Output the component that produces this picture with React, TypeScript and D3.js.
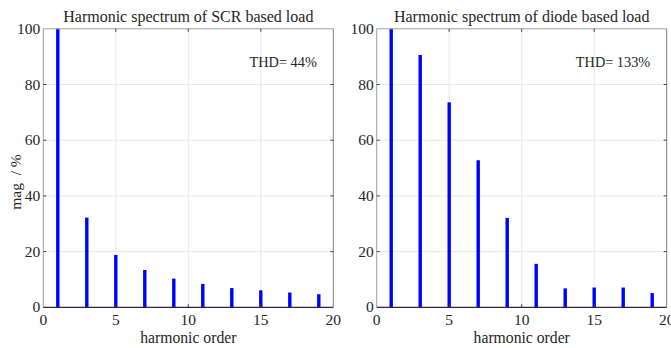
import React from "react";
import * as d3 from "d3";

const harmonicOrders = [1, 3, 5, 7, 9, 11, 13, 15, 17, 19];
const scrMagnitudes = [100, 32.2, 18.8, 13.4, 10.3, 8.4, 6.9, 6.1, 5.3, 4.7];
const diodeMagnitudes = [100, 90.6, 73.6, 52.8, 32.1, 15.6, 6.8, 7.1, 7.1, 5.1];
const xTicks = [0, 5, 10, 15, 20];
const yTicks = [0, 20, 40, 60, 80, 100];
const panelTitles = ["Harmonic spectrum of SCR based load", "Harmonic spectrum of diode based load"];
const thdLabels = ["THD= 44%", "THD= 133%"];
const xLabel = "harmonic order";
const yLabel = "mag  / %";

const W = 671;
const H = 348;
const FONT = "Liberation Serif, Times New Roman, serif";

function SText({ x, y, size, anchor = "start", children, rotate = 0 }: any) {
  return (
    <text
      transform={`translate(${x},${y}) rotate(${rotate})`}
      fontFamily={FONT}
      fontSize={size}
      textAnchor={anchor}
      fill="#262626"
      style={{ whiteSpace: "pre" }}
    >
      {children}
    </text>
  );
}

function Panel({ x0, x1, values, title, thd, showYLabel }: any) {
  const top = 28.8;
  const bottom = 307.3;
  const x = d3.scaleLinear().domain([0, 20]).range([x0, x1]);
  const y = d3.scaleLinear().domain([0, 100]).range([bottom, top]);
  const tl = 3;
  const cx = (x0 + x1) / 2;
  return (
    <g>
      {xTicks.slice(1, -1).map((t) => (
        <line key={"gx" + t} x1={x(t)} x2={x(t)} y1={top} y2={bottom} stroke="#e8e8e8" strokeWidth={1} />
      ))}
      {yTicks.slice(1, -1).map((t) => (
        <line key={"gy" + t} x1={x0} x2={x1} y1={y(t)} y2={y(t)} stroke="#e8e8e8" strokeWidth={1} />
      ))}
      {harmonicOrders.map((h, i) => (
        <rect
          key={"b" + h}
          x={x(h) - 1.7}
          width={3.4}
          y={y(values[i])}
          height={y(0) - y(values[i])}
          fill="#0000ff"
        />
      ))}
      <line x1={x0} x2={x1} y1={top} y2={top} stroke="#a0a0a0" strokeWidth={1} />
      <line x1={x0} x2={x0} y1={top} y2={bottom} stroke="#a0a0a0" strokeWidth={1} />
      <line x1={x1} x2={x1} y1={top} y2={bottom} stroke="#808080" strokeWidth={1} />
      {xTicks.slice(1, -1).map((t) => (
        <g key={"tx" + t}>
          <line x1={x(t)} x2={x(t)} y1={bottom} y2={bottom - tl} stroke="#404040" />
          <line x1={x(t)} x2={x(t)} y1={top} y2={top + tl} stroke="#404040" />
        </g>
      ))}
      {yTicks.slice(1, -1).map((t) => (
        <g key={"ty" + t}>
          <line x1={x0} x2={x0 + tl} y1={y(t)} y2={y(t)} stroke="#404040" />
          <line x1={x1} x2={x1 - tl} y1={y(t)} y2={y(t)} stroke="#404040" />
        </g>
      ))}
      <line x1={x0} x2={x1} y1={bottom} y2={bottom} stroke="#26264a" strokeWidth={1.2} />
      {xTicks.map((t) => (
        <SText key={"lx" + t} x={x(t)} y={325} size={15.5} anchor="middle">
          {t}
        </SText>
      ))}
      {yTicks.map((t) => (
        <SText key={"ly" + t} x={x0 - 3} y={y(t) + 5} size={15.5} anchor="end">
          {t}
        </SText>
      ))}
      <SText x={cx} y={342.5} size={15.7} anchor="middle">
        {xLabel}
      </SText>
      <SText x={cx} y={21.5} size={16} anchor="middle">
        {title}
      </SText>
      <SText x={x1 - 16.5} y={66.5} size={14.3} anchor="end">
        {thd}
      </SText>
      {showYLabel && (
        <SText x={21} y={182} size={15.5} anchor="middle" rotate={-90}>
          {yLabel}
        </SText>
      )}
    </g>
  );
}

export default function App() {
  return (
    <svg width={W} height={H} style={{ position: "absolute", left: 0, top: 0, background: "#fff" }}>
      <rect width={W} height={H} fill="#fff" />
      <Panel x0={43.3} x1={333.3} values={scrMagnitudes} title={panelTitles[0]} thd={thdLabels[0]} showYLabel />
      <Panel x0={376.7} x1={666.7} values={diodeMagnitudes} title={panelTitles[1]} thd={thdLabels[1]} showYLabel={false} />
    </svg>
  );
}
